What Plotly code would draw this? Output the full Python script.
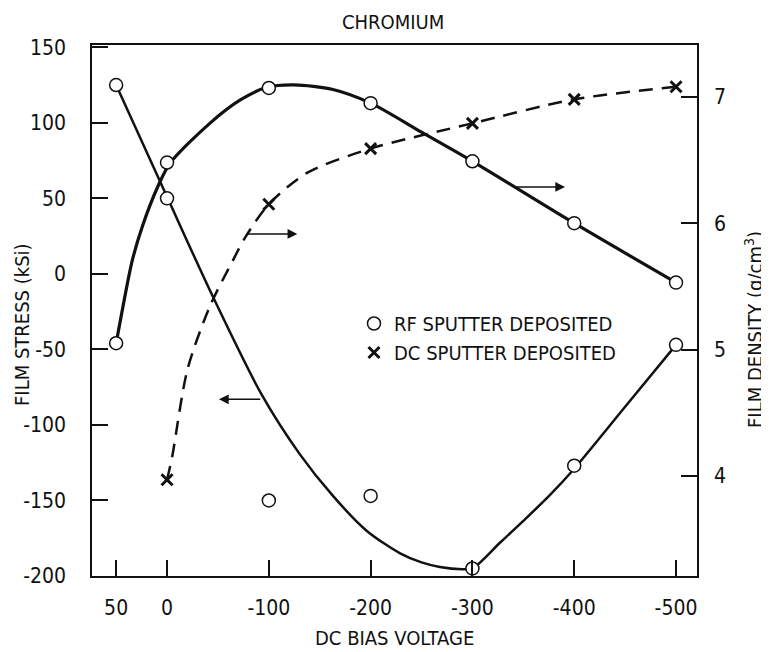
import plotly.graph_objects as go

# ---------------- data ----------------
bias_ticks = [50, 0, -100, -200, -300, -400, -500]
bias_tick_text = ["50", "0", "-100", "-200", "-300", "-400", "-500"]
stress_ticks = [-200, -150, -100, -50, 0, 50, 100, 150]
stress_tick_text = ["-200", "-150", "-100", "-50", "0", "50", "100", "150"]
density_ticks = [4, 5, 6, 7]
density_tick_text = ["4", "5", "6", "7"]

# RF sputter deposited – measured points
rf_bias = [50, 0, -100, -200, -300, -400, -500]
rf_stress = [125, 50, -150, -147, -195, -127, -47]
rf_density = [5.05, 6.48, 7.07, 6.95, 6.49, 6.00, 5.53]

# DC sputter deposited – measured points
dc_bias = [0, -100, -200, -300, -400, -500]
dc_density = [3.97, 6.15, 6.59, 6.79, 6.98, 7.08]

# hand-drawn fitted curves
stress_fit_bias = [50, 0, -45, -93, -130, -163, -196, -229, -250, -268, -290, -300,
                   -327, -350, -376, -400, -450, -500]
stress_fit = [125, 51, -15, -80, -119, -147, -170, -185, -191, -194, -195.5, -195,
              -178, -163.5, -146.5, -129, -88, -47]

rf_density_fit_bias = [50, 39, 34, 24, 9, -3, -42, -72, -98, -125, -163, -200, -250, -300, -400, -500]
rf_density_fit = [5.05, 5.52, 5.71, 5.98, 6.29, 6.475, 6.79, 6.975, 7.075, 7.095, 7.058, 6.95,
                  6.72, 6.49, 6.00, 5.53]

dc_density_fit_bias = [0, -5, -20, -42, -65, -77, -100, -138, -200, -300, -400, -500]
dc_density_fit = [3.97, 4.15, 4.84, 5.34, 5.71, 5.89, 6.15, 6.40, 6.59, 6.79, 6.98, 7.08]

FONT = "Liberation Sans Narrow, DejaVu Sans Condensed, Arial Narrow, sans-serif"
INK = "#111111"

# the page body adds an 8 px margin, so the figure is 8 px smaller on each axis
PAGE_OFFSET = 8
FIG_W, FIG_H = 769 - PAGE_OFFSET, 652 - PAGE_OFFSET
# plot area in page pixels: x 92..697, y 45..576
PLOT_L, PLOT_R, PLOT_T, PLOT_B = 92, 697, 45, 576
PW, PH = PLOT_R - PLOT_L, PLOT_B - PLOT_T


def px(xp):
    return (xp - PLOT_L) / PW


def py(yp):
    return (PLOT_B - yp) / PH


fig = go.Figure()

# fitted curves
fig.add_trace(go.Scatter(x=stress_fit_bias, y=stress_fit, mode="lines",
                         line=dict(color=INK, width=2.5, shape="spline", smoothing=0.8),
                         showlegend=False, hoverinfo="skip"))
fig.add_trace(go.Scatter(x=rf_density_fit_bias, y=rf_density_fit, mode="lines", yaxis="y2",
                         line=dict(color=INK, width=3.2, shape="spline", smoothing=0.8),
                         showlegend=False, hoverinfo="skip"))
fig.add_trace(go.Scatter(x=dc_density_fit_bias, y=dc_density_fit, mode="lines", yaxis="y2",
                         line=dict(color=INK, width=2.5, shape="spline", smoothing=0.8, dash="14px,9px"),
                         showlegend=False, hoverinfo="skip"))

# measured points
circle_marker = dict(symbol="circle", size=13, color="white", line=dict(color=INK, width=1.5))
fig.add_trace(go.Scatter(x=rf_bias, y=rf_stress, mode="markers", marker=circle_marker,
                         name="RF SPUTTER DEPOSITED", showlegend=True))
fig.add_trace(go.Scatter(x=rf_bias, y=rf_density, mode="markers", yaxis="y2", marker=circle_marker,
                         showlegend=False))
fig.add_trace(go.Scatter(x=dc_bias, y=dc_density, mode="markers", yaxis="y2",
                         marker=dict(symbol="x-thin", size=11, line=dict(color=INK, width=3)),
                         name="DC SPUTTER DEPOSITED", showlegend=True))

axis_common = dict(showgrid=False, zeroline=False, showline=True, linecolor=INK, linewidth=1.5,
                   ticks="inside", ticklen=16, tickwidth=1.5, tickcolor=INK,
                   tickfont=dict(family=FONT, size=21, color=INK))

fig.update_layout(
    width=FIG_W, height=FIG_H,
    margin=dict(l=PLOT_L - PAGE_OFFSET, r=769 - PLOT_R, t=PLOT_T - PAGE_OFFSET, b=652 - PLOT_B),
    paper_bgcolor="white", plot_bgcolor="white",
    font=dict(family=FONT, size=20, color=INK),
    xaxis=dict(range=[73.7, -520.6], tickmode="array", tickvals=bias_ticks, ticktext=bias_tick_text,
               mirror=True, ticklabelstandoff=12, **axis_common),
    yaxis=dict(range=[-200, 151.5], tickmode="array", tickvals=stress_ticks, ticktext=stress_tick_text,
               ticklabelstandoff=20, **axis_common),
    yaxis2=dict(range=[3.208, 7.41], tickmode="array", tickvals=density_ticks, ticktext=density_tick_text,
                overlaying="y", side="right", ticklabelstandoff=11, **axis_common),
    legend=dict(x=px(354), y=py(304), xanchor="left", yanchor="top",
                bgcolor="rgba(0,0,0,0)", borderwidth=0, font=dict(family=FONT, size=20, color=INK),
                tracegroupgap=0, itemsizing="trace"),
    showlegend=True,
)

# titles
fig.add_annotation(text="CHROMIUM", xref="paper", yref="paper", x=px(393), y=py(22),
                   xanchor="center", yanchor="middle", showarrow=False,
                   font=dict(family=FONT, size=20, color=INK))
fig.add_annotation(text="DC BIAS VOLTAGE", xref="paper", yref="paper", x=px(394), y=py(638),
                   xanchor="center", yanchor="middle", showarrow=False,
                   font=dict(family=FONT, size=20, color=INK))
fig.add_annotation(text="FILM STRESS (kSi)", xref="paper", yref="paper", x=px(22), y=py(325),
                   xanchor="center", yanchor="middle", textangle=-90,
                   showarrow=False, font=dict(family=FONT, size=20, color=INK))
fig.add_annotation(text="FILM DENSITY (g/cm<sup>3</sup>)", xref="paper", yref="paper",
                   x=px(754), y=py(330), xanchor="center", yanchor="middle",
                   textangle=-90, showarrow=False, font=dict(family=FONT, size=20, color=INK))

# direction arrows
arrow = dict(text="", showarrow=True, arrowhead=2, arrowsize=1.3, arrowwidth=1.5, arrowcolor=INK)
fig.add_annotation(x=-51, y=-83, ax=-93, ay=-83, xref="x", yref="y", axref="x", ayref="y", **arrow)
fig.add_annotation(x=-128, y=5.915, ax=-77, ay=5.915, xref="x", yref="y2", axref="x", ayref="y2", **arrow)
fig.add_annotation(x=-391, y=6.287, ax=-340, ay=6.287, xref="x", yref="y2", axref="x", ayref="y2", **arrow)

fig.write_html("out.html")
